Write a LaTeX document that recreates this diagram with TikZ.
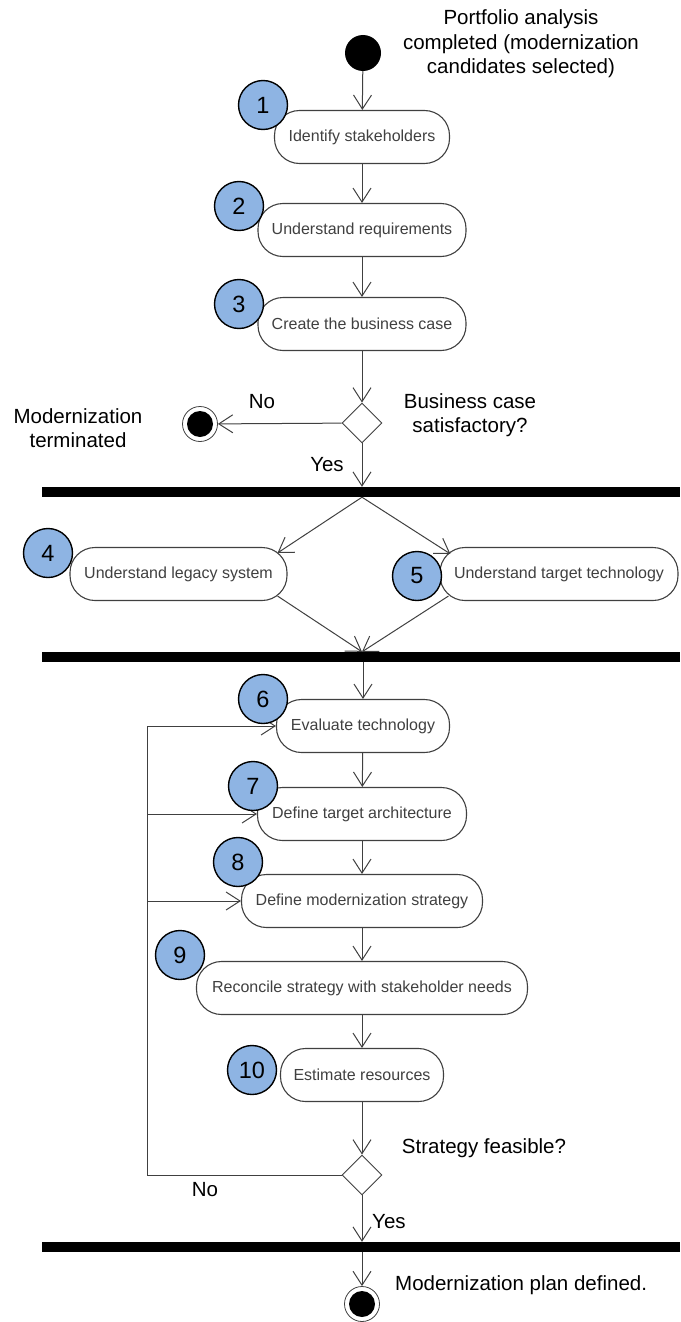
\documentclass[tikz,border=0pt]{standalone}
\usepackage{fontspec}
\setmainfont{Liberation Sans}
\usetikzlibrary{arrows.meta,shapes.geometric,calc}
\definecolor{badgeblue}{RGB}{142,180,227}
\definecolor{linegray}{RGB}{64,64,64}
\begin{document}
\begin{tikzpicture}[x=1pt,y=-1pt,
 act/.style={draw=linegray, rounded corners=25pt, minimum height=53pt, inner sep=0pt, font=\fontsize{16}{19}\selectfont, text=linegray, line width=1.1pt, fill=white},
 badge/.style={circle, draw=black, line width=1.4pt, fill=badgeblue, minimum size=49pt, inner sep=0pt, font=\fontsize{23.5}{26}\selectfont},
 bar/.style={fill=black, minimum width=638pt, minimum height=10pt, inner sep=0pt},
 dec/.style={diamond, draw=linegray, minimum width=40pt, minimum height=40pt, inner sep=0pt, line width=0.9pt, fill=white},
 flow/.style={draw=linegray, line width=1pt, -{Straight Barb[length=14pt,width=18pt,line width=1pt]}},
 plain/.style={draw=linegray, line width=1pt},
 lbl/.style={font=\fontsize{20.5}{24.5}\selectfont, align=center, inner sep=0pt},
 startn/.style={circle, fill=black, minimum size=36pt, inner sep=0pt},
 endn/.style={circle, draw=linegray, line width=0.8pt, minimum size=35pt, inner sep=0pt, path picture={\fill[black] (path picture bounding box.center) circle (13pt);}}
]
\useasboundingbox (0,0) rectangle (680,1322);

% initial
\node[startn] (start) at (363,53) {};
\node[lbl] (tstart) at (521,44) {Portfolio analysis\\completed (modernization\\candidates selected)};

% activities
\node[act, minimum width=175pt] (n1) at (362,137) {Identify stakeholders};
\node[act, minimum width=208pt] (n2) at (362,230) {Understand requirements};
\node[act, minimum width=208pt] (n3) at (362,324) {Create the business case};
\node[dec] (d1) at (362,423) {};
\node[endn] (term) at (200,424) {};
\node[lbl] (tterm) at (78,428) {Modernization\\terminated};
\node[lbl] (tno1) at (262,402) {No};
\node[lbl] (tbc) at (470,415) {Business case\\satisfactory?};
\node[lbl] (tyes1) at (327,465) {Yes};

\node[bar] (bar1) at (361,492) {};
\node[act, minimum width=217pt] (n4) at (178.5,574) {Understand legacy system};
\node[act, minimum width=238pt] (n5) at (559,574) {Understand target technology};
\node[bar] (bar2) at (361,657) {};

\node[act, minimum width=173pt] (n6) at (363,726) {Evaluate technology};
\node[act, minimum width=209pt] (n7) at (362,814) {Define target architecture};
\node[act, minimum width=241pt] (n8) at (362,901) {Define modernization strategy};
\node[act, minimum width=331pt] (n9) at (362,988) {Reconcile strategy with stakeholder needs};
\node[act, minimum width=163pt] (n10) at (362,1075) {Estimate resources};
\node[dec] (d2) at (362,1175) {};
\node[lbl] (tsf) at (484,1148) {Strategy feasible?};
\node[lbl] (tno2) at (205,1190) {No};
\node[lbl, anchor=west] (tyes2) at (372,1222) {Yes};
\node[bar] (bar3) at (361,1247) {};
\node[endn] (fin) at (362,1304) {};
\node[lbl, anchor=west] (tfin) at (395,1285) {Modernization plan defined.};

% loop coordinates
\coordinate (lx) at (147,0);

% connectors
\draw[flow] (start) -- (n1);
\draw[flow] (n1) -- (n2);
\draw[flow] (n2) -- (n3);
\draw[flow] (n3) -- (d1);
\draw[flow] (d1) -- (term);
\draw[flow] (d1) -- (d1 |- bar1.north);
\draw[flow] (bar1.south -| d1) -- ($(n4.north east)+(-10,6)$);
\draw[flow] (bar1.south -| d1) -- ($(n5.north west)+(11,7)$);
\draw[flow] ($(n4.south east)+(-10,-5)$) -- (bar2.north -| d1);
\draw[flow] ($(n5.south west)+(9,-5)$) -- (bar2.north -| d1);
\draw[flow] (bar2.south -| n6) -- (n6);
\draw[flow] (n6) -- (n7);
\draw[flow] (n7) -- (n8);
\draw[flow] (n8) -- (n9);
\draw[flow] (n9) -- (n10);
\draw[flow] (n10) -- (d2);
\draw[flow] (d2) -- (d2 |- bar3.north);
\draw[flow] (bar3.south -| fin) -- (fin);
\draw[plain] (d2.west) -- (lx |- d2.west) -- (lx |- n6.west);
\draw[flow] (lx |- n6.west) -- (n6.west);
\draw[flow] (lx |- n7.west) -- (n7.west);
\draw[flow] (lx |- n8.west) -- (n8.west);

% badges
\node[badge] (b1) at (263,105) {1};
\node[badge] (b2) at (239,206) {2};
\node[badge] (b3) at (239,304) {3};
\node[badge] (b4) at (48,553) {4};
\node[badge] (b5) at (417,576) {5};
\node[badge] (b6) at (263,699) {6};
\node[badge] (b7) at (253,786) {7};
\node[badge] (b8) at (238,862) {8};
\node[badge] (b9) at (180,955) {9};
\node[badge] (b10) at (252,1070) {10};
\end{tikzpicture}
\end{document}
